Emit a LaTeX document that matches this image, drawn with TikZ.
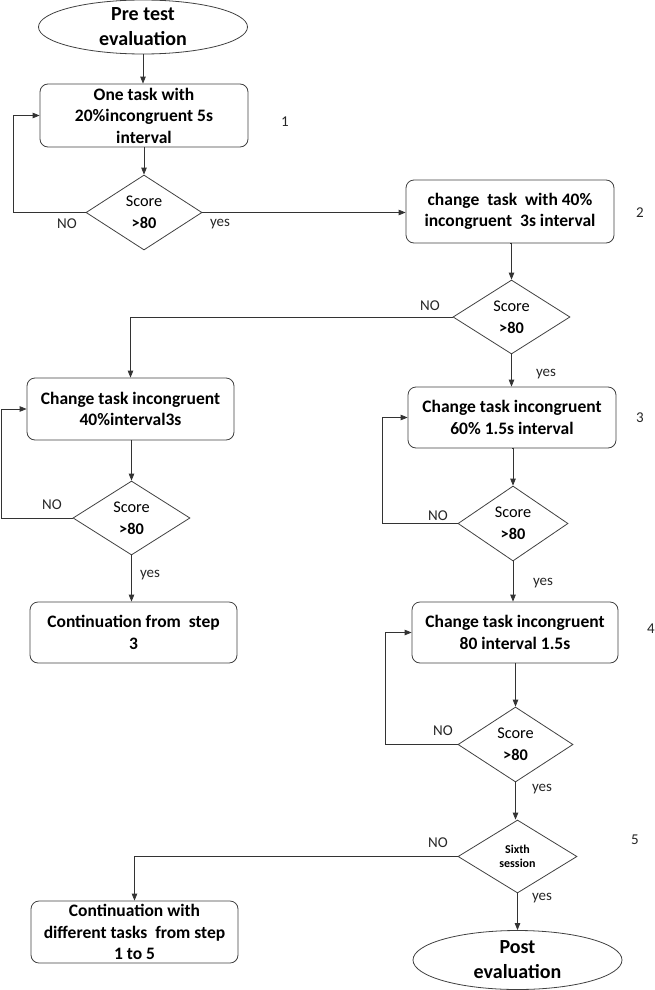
\documentclass[tikz,border=0pt]{standalone}
\usepackage{fontspec}
\setmainfont{Carlito}
\usetikzlibrary{shapes.geometric,arrows.meta}
\begin{document}
\begin{tikzpicture}[x=1pt,y=-1pt,
  line width=0.8pt, draw=black!80,
  procbox/.style={draw=black!75, rounded corners=8pt, minimum width=207pt, minimum height=62pt, inner sep=0pt, align=center, font=\fontsize{17.5}{21.5}\selectfont\bfseries},
  term/.style={draw=black!75, ellipse, minimum width=209pt, minimum height=54pt, inner sep=0pt, align=center, font=\fontsize{20}{25}\selectfont\bfseries},
  decision/.style={draw=black!75, diamond, aspect=1.55, minimum width=116pt, minimum height=75pt, inner sep=0pt, align=center, font=\fontsize{16.3}{22}\selectfont},
  lbl/.style={font=\fontsize{15}{17}\selectfont, inner sep=0pt, text=black!85},
  arr/.style={draw=black!80, -{Triangle[length=7pt,width=5.5pt]}}
]
\useasboundingbox (0,0) rectangle (654,990);

% nodes
\node[term] (pre) at (143,27) {Pre test\\evaluation};
\node[procbox, minimum width=208pt, minimum height=63pt] (b1) at (144,115.5) {One task with\\20\%incongruent 5s\\interval};
\node[decision] (d1) at (144,212.5) {Score\\\textbf{>80}};
\node[procbox, minimum width=208pt, minimum height=63pt] (b2) at (510,211.5) {change\ \ task\ \ with 40\%\\incongruent\ \ 3s interval};
\node[decision, minimum width=117pt, minimum height=74pt] (d2) at (511.5,317) {Score\\\textbf{>80}};
\node[procbox] (b3) at (130.5,409) {Change task incongruent\\40\%interval3s};
\node[decision, minimum width=117pt, minimum height=74pt] (d3) at (131.5,518) {Score\\\textbf{>80}};
\node[procbox, minimum height=61pt] (b4) at (133.5,632.5) {Continuation from\ \ step\\3};
\node[procbox, minimum width=208pt, minimum height=61pt] (b5) at (512,417.5) {Change task incongruent\\60\% 1.5s interval};
\node[decision, minimum width=110pt] (d4) at (513,523.5) {Score\\\textbf{>80}};
\node[procbox, minimum width=206pt, minimum height=61pt] (b6) at (515,632.5) {Change task incongruent\\80 interval 1.5s};
\node[decision, minimum width=115pt] (d5) at (515.5,744.5) {Score\\\textbf{>80}};
\node[decision, minimum width=119pt, minimum height=73pt, font=\fontsize{12}{14.5}\selectfont\bfseries] (d6) at (517.5,856.5) {Sixth\\session};
\node[procbox] (b7) at (134.5,932) {Continuation with\\different tasks\ \ from step\\1 to 5};
\node[term, minimum height=59pt] (post) at (517.5,960) {Post\\evaluation};

% loop coordinates
\coordinate (l1) at (13,0);
\coordinate (l3) at (1,0);
\coordinate (l4) at (382,0);
\coordinate (l5) at (385,0);

% connectors
\draw[arr] (pre.south) -- (pre.south |- b1.north);
\draw[arr] (b1.south) -- (b1.south |- d1.north);
\draw[arr] (d1.west) -- (d1.west -| l1) |- (b1.west);
\draw[arr] (d1.east) -- (d1.east -| b2.west);
\draw[arr] (b2.south) -- (b2.south -| d2.north) -- (d2.north);
\draw[arr] (d2.west) -| (b3.north);
\draw[arr] (d2.south) -- (d2.south |- b5.north);
\draw[arr] (b3.south) -- (b3.south -| d3.north) -- (d3.north);
\draw[arr] (d3.west) -- (d3.west -| l3) |- (b3.west);
\draw[arr] (d3.south) -- (d3.south |- b4.north);
\draw[arr] (b5.south) -- (b5.south -| d4.north) -- (d4.north);
\draw[arr] (d4.west) -- (d4.west -| l4) |- (b5.west);
\draw[arr] (d4.south) -- (d4.south |- b6.north);
\draw[arr] (b6.south) -- (b6.south -| d5.north) -- (d5.north);
\draw[arr] (d5.west) -- (d5.west -| l5) |- (b6.west);
\draw[arr] (d5.south) -- (d5.south |- d6.north);
\draw[arr] (d6.west) -| (b7.north);
\draw[arr] (d6.south) -- (d6.south |- post.north);

% labels
\node[lbl] (no1) at (67,224) {NO};
\node[lbl] (yes1) at (220,224) {yes};
\node[lbl] (s1) at (285,122) {1};
\node[lbl] (s2) at (640,213) {2};
\node[lbl] (no2) at (430,306) {NO};
\node[lbl] (yes2) at (546,374) {yes};
\node[lbl] (s3) at (640,418) {3};
\node[lbl] (no3) at (52,505) {NO};
\node[lbl] (yes3) at (150,575) {yes};
\node[lbl] (no4) at (438,516) {NO};
\node[lbl] (yes4) at (543,583) {yes};
\node[lbl] (s4) at (651,629) {4};
\node[lbl] (no5) at (443,731) {NO};
\node[lbl] (yes5) at (542,789) {yes};
\node[lbl] (no6) at (438,843) {NO};
\node[lbl] (s5) at (635,840) {5};
\node[lbl] (yes6) at (542,898) {yes};
\end{tikzpicture}
\end{document}
